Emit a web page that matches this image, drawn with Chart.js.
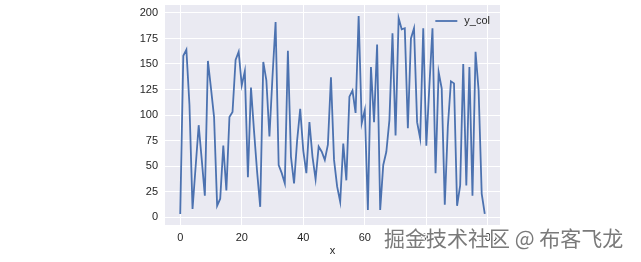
<!DOCTYPE html>
<html>
<head>
<meta charset="utf-8">
<script src="https://cdn.jsdelivr.net/npm/chart.js@4"></script>
<style>
  body { margin: 0; background: #fff; }
  #wrap { position: relative; width: 641px; height: 262px; }
  #mark {
    position: absolute; left: 384px; top: 222px;
    font-family: "Noto Sans CJK SC", sans-serif; font-size: 21px;
    color: #7a7a7a; white-space: nowrap;
    text-shadow: 1px 1px 0 #fff, -1px -1px 0 #fff, 1px -1px 0 #fff, -1px 1px 0 #fff;
  }
</style>
</head>
<body>
<div id="wrap">
  <canvas id="chart" width="641" height="262"></canvas>
  <div id="mark">掘金技术社区 @ 布客飞龙</div>
</div>
<script>
const seriesName = 'y_col';
const yCol = [
    3, 158, 164, 110, 8, 49, 90, 56, 21, 153,
    126, 98, 11, 18, 70, 26, 98, 103, 154, 162,
    129, 143, 39, 127, 84, 44, 10, 152, 134, 79,
    138, 191, 51, 43, 33, 163, 59, 33, 75, 106,
    65, 43, 93, 59, 37, 69, 64, 56, 71, 137,
    56, 30, 15, 72, 36, 118, 124, 102, 197, 92,
    105, 7, 147, 93, 169, 7, 51, 64, 95, 180,
    80, 195, 184, 185, 87, 175, 185, 93, 77, 185,
    70, 129, 185, 43, 142, 126, 12, 89, 133, 131,
    11, 31, 150, 31, 147, 21, 162, 124, 23, 3
];
const xTicks = [0, 20, 40, 60, 80, 100];
const yTicks = [0, 25, 50, 75, 100, 125, 150, 175, 200];

const textColor = '#262626';
const font = { family: 'Liberation Sans', size: 11 };

// grey panel behind the plot, seaborn style
const panelBg = {
    id: 'panelBg',
    beforeDraw(chart) {
        const a = chart.chartArea;
        const ctx = chart.ctx;
        ctx.save();
        ctx.fillStyle = '#EAEAF2';
        ctx.fillRect(a.left, a.top, a.right - a.left, a.bottom - a.top);
        ctx.restore();
    }
};

// legend inside the plot, upper right
const innerLegend = {
    id: 'innerLegend',
    afterDraw(chart) {
        const a = chart.chartArea;
        const ctx = chart.ctx;
        const ds = chart.data.datasets[0];
        ctx.save();
        ctx.font = font.size + 'px ' + font.family;
        const tw = ctx.measureText(ds.label).width;
        const textX = a.right - 10 - tw;
        const y = a.top + 16;
        ctx.strokeStyle = ds.borderColor;
        ctx.lineWidth = ds.borderWidth;
        ctx.beginPath();
        ctx.moveTo(textX - 29, y);
        ctx.lineTo(textX - 7, y);
        ctx.stroke();
        ctx.fillStyle = textColor;
        ctx.textBaseline = 'middle';
        ctx.fillText(ds.label, textX, y);
        ctx.restore();
    }
};

const ctx = document.getElementById('chart').getContext('2d');
const chart = new Chart(ctx, {
    type: 'line',
    data: {
        datasets: [{
            label: seriesName,
            data: yCol.map((y, i) => ({ x: i, y: y })),
            borderColor: '#4C72B0',
            borderWidth: 1.8,
            pointRadius: 0,
            tension: 0
        }]
    },
    options: {
        responsive: false,
        animation: false,
        layout: { padding: { left: 0, right: 141, top: 5, bottom: 0 } },
        plugins: {
            tooltip: { enabled: false },
            legend: { display: false }
        },
        scales: {
            x: {
                type: 'linear',
                min: -4.95,
                max: 103.95,
                afterBuildTicks: (s) => { s.ticks = xTicks.map(v => ({ value: v })); },
                afterFit: (s) => { s.height = 37; s.paddingLeft = 0; s.paddingRight = 0; },
                ticks: { color: textColor, font: font, padding: 6, maxRotation: 0 },
                grid: { color: '#ffffff', lineWidth: 1, drawTicks: false },
                border: { display: false },
                title: { display: true, text: 'x', color: textColor, font: font, padding: 4 }
            },
            y: {
                min: -7.8,
                max: 207.8,
                afterBuildTicks: (s) => { s.ticks = yTicks.map(v => ({ value: v })); },
                afterFit: (s) => { s.width = 165; s.paddingTop = 0; s.paddingBottom = 0; },
                ticks: { color: textColor, font: font, padding: 7 },
                grid: { color: '#ffffff', lineWidth: 1, drawTicks: false },
                border: { display: false }
            }
        }
    },
    plugins: [panelBg, innerLegend]
});
</script>
</body>
</html>
